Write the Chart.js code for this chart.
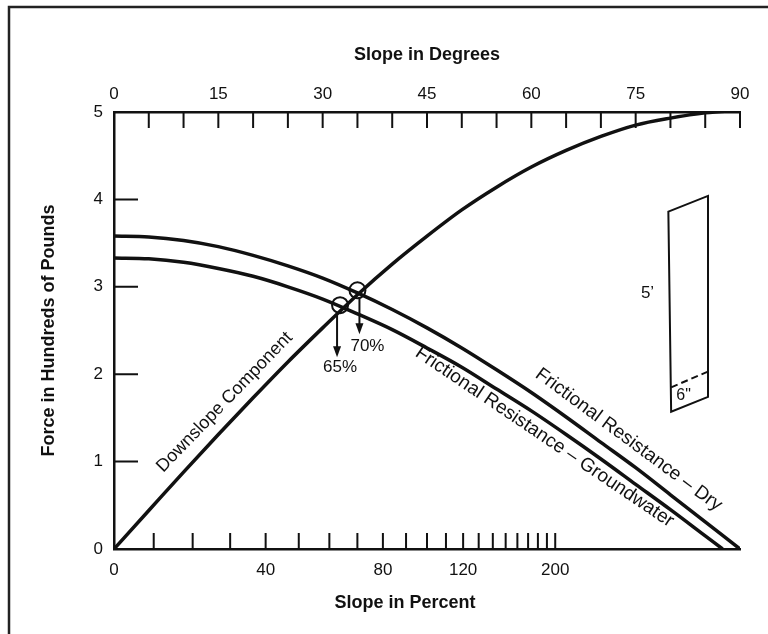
<!DOCTYPE html>
<html>
<head>
<meta charset="utf-8">
<script src="https://cdn.jsdelivr.net/npm/chart.js@4"></script>
<style>
html, body { margin: 0; padding: 0; background: #fff; }
</style>
</head>
<body>
<canvas id="grafico" width="768" height="634"></canvas>
<script>
// valores (fuerza en cientos de libras vs pendiente en grados)
const grados = [0, 5, 10, 15, 20, 25, 30, 35, 40, 45, 50, 55, 60, 65, 70, 75, 80, 85, 90]
const componente = [0, 0.44, 0.88, 1.31, 1.73, 2.14, 2.53, 2.91, 3.26, 3.58, 3.88, 4.14, 4.37, 4.56, 4.72, 4.85, 4.93, 4.99, 5.02]
const friccionSeco = [3.58, 3.57, 3.53, 3.46, 3.36, 3.24, 3.10, 2.93, 2.74, 2.53, 2.30, 2.05, 1.79, 1.51, 1.22, 0.93, 0.62, 0.31, 0]
const gradosAgua = [0, 5, 10, 15, 20, 25, 30, 35, 40, 45, 50, 55, 60, 65, 70, 75, 80, 85, 87.5]
const friccionAgua = [3.33, 3.32, 3.28, 3.21, 3.12, 3.00, 2.86, 2.69, 2.51, 2.30, 2.08, 1.83, 1.58, 1.31, 1.03, 0.74, 0.45, 0.15, 0]

// eje inferior en porcentaje
const marcasPorcentaje = [0, 10, 20, 30, 40, 50, 60, 70, 80, 90, 100, 110, 120, 130, 140, 150, 160, 170, 180, 190, 200]
const etiquetasPorcentaje = [0, 40, 80, 120, 200]

// puntos de cruce
const cruceGrados = [32.5, 35]
const cruceFuerza = [2.79, 2.96]
const cruceTexto = ['65%', '70%']

const fuente = "'Liberation Sans', Arial, Helvetica, sans-serif"
const tinta = '#111'
Chart.defaults.font.family = fuente
Chart.defaults.color = tinta

const puntos = (xs, ys) => xs.map((v, i) => ({ x: v, y: ys[i] }))

function textoGirado(c, texto, px, py, ang) {
    c.save()
    c.translate(px, py)
    c.rotate(ang * Math.PI / 180)
    c.textAlign = 'center'
    c.textBaseline = 'middle'
    c.fillText(texto, 0, 0)
    c.restore()
}

const dibujos = {
    id: 'dibujos',
    beforeDraw(chart) {
        const c = chart.ctx
        c.save()
        c.fillStyle = '#fff'
        c.fillRect(0, 0, chart.width, chart.height)
        // marco de la figura
        c.strokeStyle = '#222'
        c.lineWidth = 2.5
        c.beginPath()
        c.moveTo(9, chart.height)
        c.lineTo(9, 7)
        c.lineTo(chart.width, 7)
        c.stroke()
        c.restore()
    },
    afterDraw(chart) {
        const c = chart.ctx
        const { x, xp, y } = chart.scales
        const area = chart.chartArea
        c.save()
        c.strokeStyle = tinta
        c.fillStyle = tinta
        c.lineWidth = 2

        // marcas hacia adentro
        c.beginPath()
        x.ticks.forEach(t => {
            if (t.value === 0) return
            const px = x.getPixelForValue(t.value)
            c.moveTo(px, area.top)
            c.lineTo(px, area.top + 16)
        })
        xp.ticks.forEach(t => {
            if (t.value === 0) return
            const px = xp.getPixelForValue(t.value)
            c.moveTo(px, area.bottom)
            c.lineTo(px, area.bottom - 16)
        })
        y.ticks.forEach(t => {
            if (t.value === 0 || t.value === 5) return
            const py = y.getPixelForValue(t.value)
            c.moveTo(area.left, py)
            c.lineTo(area.left + 24, py)
        })
        c.stroke()

        // flechas de los cruces
        c.font = '17px ' + fuente
        c.textAlign = 'center'
        c.textBaseline = 'middle'
        cruceGrados.forEach((g, i) => {
            const px = x.getPixelForValue(g)
            const py = y.getPixelForValue(cruceFuerza[i])
            const ax = i === 0 ? px - 3 : px + 2
            const ini = py + (i === 0 ? 10 : 8)
            const fin = py + (i === 0 ? 52 : 44)
            c.beginPath()
            c.moveTo(ax, ini)
            c.lineTo(ax, fin - 6)
            c.stroke()
            c.beginPath()
            c.moveTo(ax - 4, fin - 11)
            c.lineTo(ax + 4, fin - 11)
            c.lineTo(ax, fin)
            c.closePath()
            c.fill()
            if (i === 0) c.fillText(cruceTexto[i], px, py + 62)
            else c.fillText(cruceTexto[i], px + 10, py + 56)
        })

        // nombres de las curvas
        c.font = '18px ' + fuente
        textoGirado(c, 'Downslope Component', x.getPixelForValue(15.9), y.getPixelForValue(1.68), -46)
        c.font = '19px ' + fuente
        textoGirado(c, 'Frictional Resistance \u2013 Groundwater', x.getPixelForValue(61.9), y.getPixelForValue(1.28), 34)
        textoGirado(c, 'Frictional Resistance \u2013 Dry', x.getPixelForValue(74.0), y.getPixelForValue(1.25), 36.5)

        // dibujo del bloque de suelo
        const p = (g, f) => [x.getPixelForValue(g), y.getPixelForValue(f)]
        c.lineWidth = 2
        c.beginPath()
        c.moveTo(...p(79.7, 3.86))
        c.lineTo(...p(85.4, 4.04))
        c.lineTo(...p(85.4, 1.74))
        c.lineTo(...p(80.1, 1.57))
        c.closePath()
        c.stroke()
        c.setLineDash([7, 4])
        c.beginPath()
        c.moveTo(...p(80.1, 1.85))
        c.lineTo(...p(85.4, 2.03))
        c.stroke()
        c.setLineDash([])
        c.font = '17px ' + fuente
        c.fillText('5\u2019', ...p(76.7, 2.93))
        c.font = '16px ' + fuente
        c.fillText('6"', ...p(81.9, 1.75))

        // titulo del eje inferior
        c.font = 'bold 18px ' + fuente
        c.fillText('Slope in Percent', area.left + 291, area.bottom + 54)
        c.restore()
    }
}

const lineaCurva = {
    showLine: true,
    borderColor: tinta,
    borderWidth: 3.5,
    pointRadius: 0,
    tension: 0.4,
    cubicInterpolationMode: 'monotone'
}

new Chart(document.getElementById('grafico'), {
    type: 'scatter',
    data: {
        datasets: [
            { label: 'Downslope Component', data: puntos(grados, componente), ...lineaCurva },
            { label: 'Frictional Resistance - Dry', data: puntos(grados, friccionSeco), ...lineaCurva },
            { label: 'Frictional Resistance - Groundwater', data: puntos(gradosAgua, friccionAgua), ...lineaCurva },
            {
                label: 'cruces',
                data: puntos(cruceGrados, cruceFuerza),
                showLine: false,
                pointStyle: 'circle',
                pointRadius: 8,
                pointBorderWidth: 2,
                borderColor: tinta,
                backgroundColor: 'rgba(0,0,0,0)'
            }
        ]
    },
    options: {
        responsive: false,
        animation: false,
        layout: { padding: { left: 0, top: 0, right: 28, bottom: 0 } },
        plugins: { legend: { display: false }, tooltip: { enabled: false } },
        scales: {
            x: {
                type: 'linear',
                position: 'top',
                min: 0,
                max: 90,
                afterFit: s => { s.height = 112 },
                ticks: {
                    stepSize: 5,
                    autoSkip: false,
                    maxRotation: 0,
                    padding: 7,
                    color: tinta,
                    font: { size: 17 },
                    callback: v => v % 15 === 0 ? v : ''
                },
                grid: { display: true, drawOnChartArea: false, drawTicks: false },
                border: { display: true, color: tinta, width: 2.5 },
                title: {
                    display: true,
                    text: 'Slope in Degrees',
                    color: tinta,
                    font: { size: 18, weight: 'bold' },
                    padding: { top: 44, bottom: 0 }
                }
            },
            xp: {
                type: 'linear',
                position: 'bottom',
                min: 0,
                max: 90,
                afterFit: s => { s.height = 85 },
                afterBuildTicks: s => {
                    s.ticks = marcasPorcentaje.map(v => ({ value: Math.atan(v / 100) * 180 / Math.PI }))
                },
                ticks: {
                    autoSkip: false,
                    maxRotation: 0,
                    padding: 11,
                    color: tinta,
                    font: { size: 17 },
                    callback: (v, i) => etiquetasPorcentaje.includes(marcasPorcentaje[i]) ? marcasPorcentaje[i] : ''
                },
                grid: { display: true, drawOnChartArea: false, drawTicks: false },
                border: { display: true, color: tinta, width: 2.5 }
            },
            y: {
                type: 'linear',
                min: 0,
                max: 5,
                afterFit: s => { s.width = 114 },
                ticks: { stepSize: 1, padding: 11, color: tinta, font: { size: 17 } },
                grid: { display: true, drawOnChartArea: false, drawTicks: false },
                border: { display: true, color: tinta, width: 2.5 },
                title: {
                    display: true,
                    text: 'Force in Hundreds of Pounds',
                    color: tinta,
                    font: { size: 18, weight: 'bold' },
                    padding: { top: 38, bottom: 0 }
                }
            }
        }
    },
    plugins: [dibujos]
})
</script>
</body>
</html>
